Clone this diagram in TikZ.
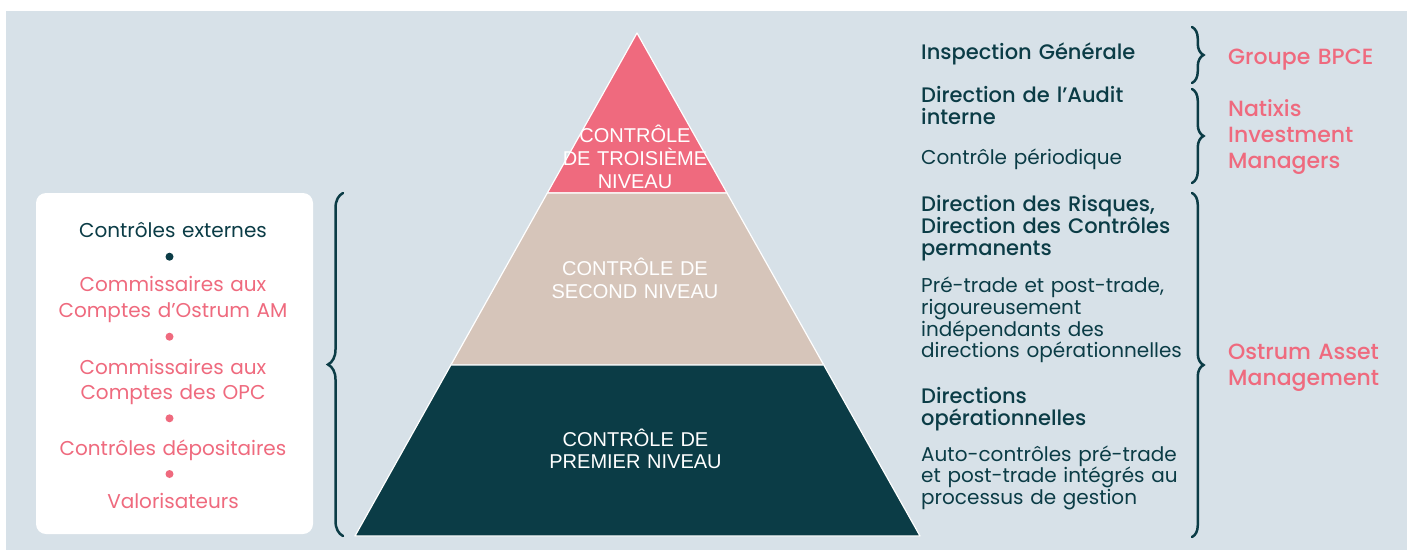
\documentclass[tikz,border=0pt]{standalone}
\usepackage{fontspec}
\setmainfont{Poppins}
\newfontfamily\medfont{Poppins Medium}
\newfontfamily\lvlfont{Liberation Sans}
\usetikzlibrary{calc,decorations.pathreplacing}
\setlength{\parindent}{0pt}
\definecolor{bgcol}{HTML}{D7E1E8}
\definecolor{darkteal}{HTML}{0B3C46}
\definecolor{rosa}{HTML}{EF6A7E}
\definecolor{beige}{HTML}{D6C5BA}

\begin{document}
\begin{tikzpicture}[x=1pt,y=-1pt]
\tikzstyle{body}=[anchor=base west,inner sep=0pt,text width=300pt,align=left,text=darkteal,font=\fontsize{20}{21.7}\selectfont]
\tikzstyle{head}=[body,font=\medfont\fontsize{21}{22}\selectfont]
\tikzstyle{org}=[anchor=base west,inner sep=0pt,text width=180pt,align=left,text=rosa,font=\medfont\fontsize{22}{25.8}\selectfont]
\tikzstyle{lvl}=[anchor=base,inner sep=0pt,text width=200pt,align=center,text=white,font=\lvlfont\fontsize{20}{22.8}\selectfont]
\tikzstyle{ext}=[anchor=base,inner sep=0pt,text width=260pt,align=center,text=rosa,font=\fontsize{20}{26}\selectfont]
\tikzstyle{dot}=[circle,fill=rosa,inner sep=0pt,minimum size=8pt]
\tikzstyle{brc}=[draw=darkteal,line width=2.5pt,line cap=round,decorate,decoration={brace,amplitude=11.5pt}]
\useasboundingbox (0,0) rectangle (1413,550);
\fill[bgcol] (6,11) rectangle (1407,550);
% external controls
\node[fill=white,rounded corners=10pt,minimum width=277pt,minimum height=341pt,inner sep=0pt] (box) at (174.5,363.5) {};
\node[ext,text=darkteal] (extern) at (173,237.3) {Contrôles externes};
\node[dot,fill=darkteal] (d1) at (169.5,256.7) {};
\node[ext] (cac1) at (173,291.7) {Commissaires aux\\Comptes d’Ostrum AM};
\node[dot] (d2) at (169.5,336.7) {};
\node[ext,font=\fontsize{20}{25.3}\selectfont] (cac2) at (173,374) {Commissaires aux\\Comptes des OPC};
\node[dot] (d3) at (169.5,418.3) {};
\node[ext] (depo) at (173,455) {Contrôles dépositaires};
\node[dot] (d4) at (169.5,474) {};
\node[ext] (valo) at (173,508.3) {Valorisateurs};
% pyramid
\coordinate (apex) at (637,33);
\coordinate (bl) at (355,536);
\coordinate (br) at (920,536);
\coordinate (l1) at ($(apex)!0.318!(bl)$);
\coordinate (r1) at ($(apex)!0.318!(br)$);
\coordinate (l2) at ($(apex)!0.66!(bl)$);
\coordinate (r2) at ($(apex)!0.66!(br)$);
\filldraw[fill=rosa,draw=white,line width=1.2pt,line join=round] (apex) -- (r1) -- (l1) -- cycle;
\filldraw[fill=beige,draw=white,line width=1.2pt,line join=round] (l1) -- (r1) -- (r2) -- (l2) -- cycle;
\filldraw[fill=darkteal,draw=white,line width=1.2pt,line join=round] (l2) -- (r2) -- (br) -- (bl) -- cycle;
\node[lvl] (third) at (635,142.7) {CONTRÔLE\\DE TROISIÈME\\NIVEAU};
\node[lvl] (second) at (635,275.5) {CONTRÔLE DE\\SECOND NIVEAU};
\node[lvl] (first) at (635.5,446) {CONTRÔLE DE\\PREMIER NIVEAU};
% responsibilities
\node[head] (insp) at (921,59) {Inspection Générale};
\node[head] (audit) at (921,102.3) {Direction de l’Audit\\interne};
\node[body] (perio) at (921,164) {Contrôle périodique};
\node[head] (risk) at (921,211.7) {Direction des Risques,\\Direction des Contrôles\\permanents};
\node[body] (pre) at (921,292.7) {Pré-trade et post-trade,\\rigoureusement\\indépendants des\\directions opérationnelles};
\node[head] (ops) at (921,403.3) {Directions\\opérationnelles};
\node[body] (auto) at (921,461) {Auto-contrôles pré-trade\\et post-trade intégrés au\\processus de gestion};
% entities
\node[org] (bpce) at (1228,64.3) {Groupe BPCE};
\node[org] (natixis) at (1228,116.7) {Natixis\\Investment\\Managers};
\node[org] (ostrum) at (1228,359.3) {Ostrum Asset\\Management};
% braces
\path (343,536) coordinate (lbS) (343,193) coordinate (lbN);
\path (1192,27) coordinate (b1N) (1192,83) coordinate (b1S);
\path (1192,89) coordinate (b2N) (1192,183) coordinate (b2S);
\path (1192,193) coordinate (b3N) (1192,537) coordinate (b3S);
\draw[brc,decoration={amplitude=15pt}] (lbS) -- (lbN);
\draw[brc] (b1N) -- (b1S);
\draw[brc] (b2N) -- (b2S);
\draw[brc] (b3N) -- (b3S);
\end{tikzpicture}
\end{document}
